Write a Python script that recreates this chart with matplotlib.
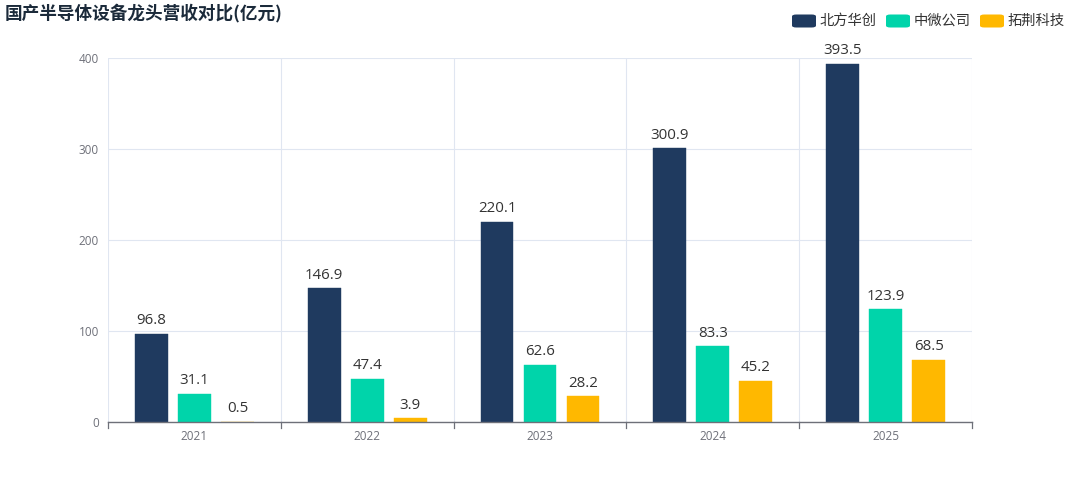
import matplotlib
matplotlib.use("Agg")
import matplotlib.pyplot as plt
from matplotlib.patches import FancyBboxPatch
import numpy as np

plt.rcParams['font.family'] = ['Noto Sans CJK SC', 'DejaVu Sans']
NUMFONT = ['Open Sans', 'DejaVu Sans']

years = ['2021', '2022', '2023', '2024', '2025']
series_names = ['北方华创', '中微公司', '拓荆科技']
naura = [96.8, 146.9, 220.1, 300.9, 393.5]
amec = [31.1, 47.4, 62.6, 83.3, 123.9]
piotech = [0.5, 3.9, 28.2, 45.2, 68.5]
colors = ['#1f3a5f', '#00d4aa', '#ffb800']
title = '国产半导体设备龙头营收对比(亿元)'

W, H = 1080, 491
fig = plt.figure(figsize=(W / 100, H / 100), dpi=100)
ax = fig.add_axes([108 / W, 1 - 422 / H, (972 - 108) / W, (422 - 58) / H])

x = np.arange(len(years))
bw = 0.19
offs = [-0.249, 0.0, 0.249]
for data, c, o in zip([naura, amec, piotech], colors, offs):
    bars = ax.bar(x + o, data, width=bw, color=c, edgecolor=c, linewidth=0.3, zorder=3)
    for b, v in zip(bars, data):
        ax.annotate(f'{v}', (b.get_x() + b.get_width() / 2, v), xytext=(0, 4),
                    textcoords='offset points', ha='center', va='bottom',
                    fontsize=10.8, color='#333333', zorder=4, family=NUMFONT)

ax.set_xlim(-0.5, len(years) - 0.5)
ax.set_ylim(0, 400)
ax.set_yticks([0, 100, 200, 300, 400])
ax.set_xticks(x)
ax.set_xticklabels(years)
ax.tick_params(axis='x', length=0, colors='#6e7079', labelsize=8.5, pad=6)
ax.tick_params(axis='y', length=0, colors='#6e7079', labelsize=8.5, pad=6.5)
for lab in ax.get_xticklabels() + ax.get_yticklabels():
    lab.set_family(NUMFONT)
for b in np.arange(-0.5, len(years), 1.0):
    ax.axvline(b, color='#e0e6f1', lw=0.8, zorder=1)
    ax.plot([b, b], [0, -7], color='#6e7079', lw=0.9, clip_on=False, zorder=5)
ax.yaxis.grid(True, color='#e0e6f1', lw=0.8, zorder=1)
for s in ['left', 'right', 'top']:
    ax.spines[s].set_visible(False)
ax.spines['bottom'].set_color('#6e7079')
ax.spines['bottom'].set_linewidth(1.0)
ax.spines['bottom'].set_zorder(5)

fig.text(5 / W, 1 - 13 / H, title, fontsize=12.7, fontweight='bold', color='#1b2a3a',
         ha='left', va='center')

handles_x = [792, 886, 980]
ly = 21
for hx, c, name in zip(handles_x, colors, series_names):
    p = FancyBboxPatch((hx / W, 1 - (ly + 6.5) / H), 24 / W, 13 / H,
                       boxstyle='round,pad=0,rounding_size=0.004', transform=fig.transFigure,
                       facecolor=c, edgecolor='none')
    fig.patches.append(p)
    fig.text((hx + 28) / W, 1 - ly / H, name, fontsize=10.3, color='#333333',
             ha='left', va='center')

fig.savefig('out.png', dpi=100)
